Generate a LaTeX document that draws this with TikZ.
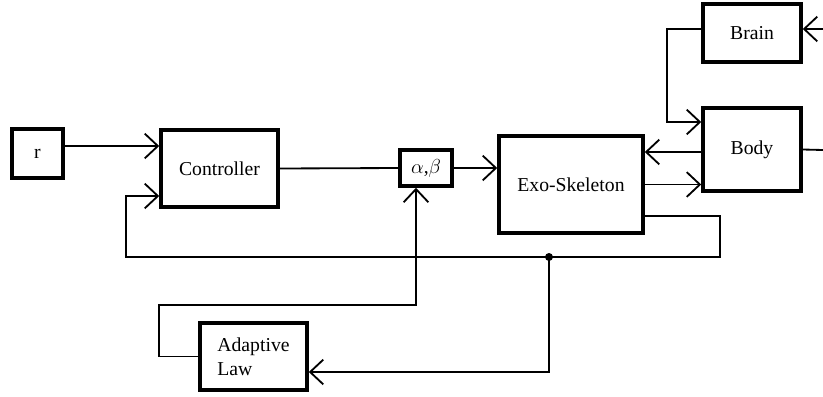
\documentclass[tikz,border=0pt]{standalone}
\usepackage{fontspec}
\setmainfont{Liberation Serif}
\usetikzlibrary{arrows.meta}
\begin{document}
\begin{tikzpicture}[
  x=0.025cm, y=-0.025cm,
  blk/.style={draw, line width=2.5pt, inner sep=0pt, align=center, font=\fontsize{14}{17}\selectfont},
  arr/.style={line width=1.3pt, -{Straight Barb[length=0.33cm, width=0.62cm, line width=1.3pt]}},
  wire/.style={line width=1.3pt}
]
  \useasboundingbox (0,0) rectangle (823,396);
  % blocks
  \node[blk, minimum width=1.275cm, minimum height=1.225cm] (r) at (37.5,153.5) {r};
  \node[blk, minimum width=2.925cm, minimum height=1.925cm] (ctrl) at (219.5,168.5) {Controller};
  \node[blk, minimum width=1.3cm, minimum height=0.9cm] (ab) at (426,168) {$\alpha$,$\beta$};
  \node[blk, minimum width=3.6cm, minimum height=2.425cm] (exo) at (571,184.5) {Exo-Skeleton};
  \node[blk, minimum width=2.45cm, minimum height=1.45cm] (brain) at (752,33) {Brain};
  \node[blk, minimum width=2.45cm, minimum height=2.075cm] (body) at (752,149.5) {Body};
  \node[blk, minimum width=2.675cm, minimum height=1.675cm, align=left] (adapt) at (253.5,356.5) {Adaptive\\Law};
  % helper points
  \coordinate (rin) at (63,146);
  \coordinate (cfb) at (126,196);
  \coordinate (fy) at (643,216);
  \coordinate (fr) at (720,257);
  \coordinate (fl) at (126,257);
  \coordinate (dot) at (549,257);
  \coordinate (ay) at (307,372);
  \coordinate (al) at (159,305);
  \coordinate (au) at (416,305);
  \coordinate (bk) at (703,152);
  \coordinate (bb) at (667,122);
  \coordinate (bin) at (823,29);
  \coordinate (bout) at (823,150);
  % forward path
  \draw[arr] (r.east |- rin) -- (ctrl.west |- rin);
  \draw[wire] (ctrl.east) -- (ab.west);
  \draw[arr] (ab.east) -- (exo.west |- ab.east);
  \draw[arr] (exo.east) -- (exo.east -| body.west);
  \draw[arr] (body.west |- bk) -- (exo.east |- bk);
  \draw[arr] (brain.west |- bin) -| (bb) -- (body.west |- bb);
  \draw[arr] (bin) -- (brain.east |- bin);
  \draw[wire] (body.east) -- (bout);
  % feedback
  \draw[arr] (exo.east |- fy) -| (fr) -- (fl) |- (ctrl.west |- cfb);
  \fill (dot) circle (4);
  \draw[arr] (dot) |- (adapt.east |- ay);
  \draw[arr] (adapt.west) -| (al) -- (au) -- (au |- ab.south);
\end{tikzpicture}
\end{document}
